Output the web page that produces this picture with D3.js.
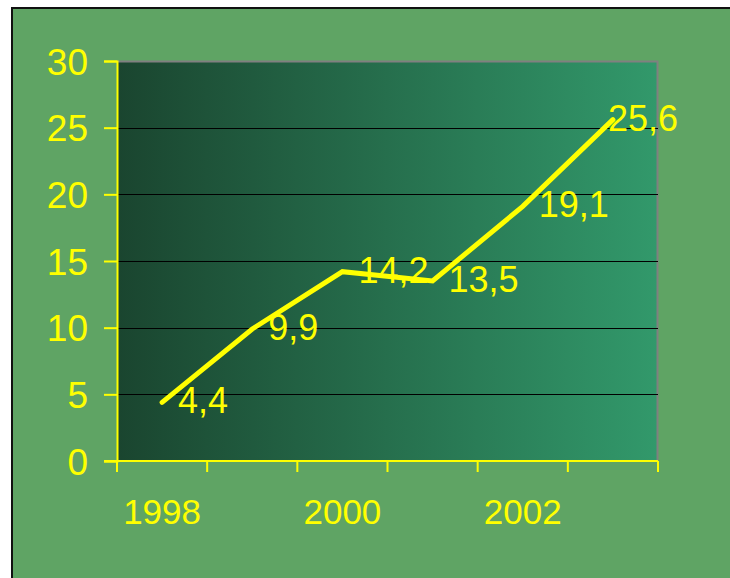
<!DOCTYPE html>
<html><head><meta charset="utf-8">
<script src="https://cdn.jsdelivr.net/npm/d3@7"></script>
<style>html,body{margin:0;padding:0;background:#fff;}svg{display:block;}</style>
</head><body><svg id="c" width="730" height="578"></svg>
<script>
const years = ["1998","1999","2000","2001","2002","2003"];
const values = [4.4, 9.9, 14.2, 13.5, 19.1, 25.6];
const valueLabels = ["4,4","9,9","14,2","13,5","19,1","25,6"];
const shownYears = ["1998","2000","2002"];
const yTicks = [0,5,10,15,20,25,30];

const svg = d3.select("#c");
const font = "'Liberation Sans', Arial, sans-serif";
const yellow = "#ffff00";

svg.append("rect").attr("x",12).attr("y",8).attr("width",730).attr("height",580)
  .attr("fill","#5fa464").attr("stroke","#111").attr("stroke-width",2);

const L=117, R=658, T=61, B=461;
const x = d3.scaleBand().domain(years).range([L,R]).padding(0);
const y = d3.scaleLinear().domain([0,30]).range([B,T]);

const defs = svg.append("defs");
const g = defs.append("linearGradient").attr("id","bg").attr("x1","0").attr("x2","1").attr("y1","0").attr("y2","0");
g.append("stop").attr("offset","0%").attr("stop-color","#1a452f");
g.append("stop").attr("offset","100%").attr("stop-color","#32996b");

svg.append("rect").attr("x",L).attr("y",T).attr("width",R-L).attr("height",B-T).attr("fill","url(#bg)");
svg.append("path").attr("d",`M${L},${T+0.5}H${R-0.5}V${B}`).attr("fill","none").attr("stroke","#808080").attr("stroke-width",2);

svg.append("g").selectAll("line").data(yTicks.filter(v=>v>0&&v<30)).join("line")
  .attr("x1",L).attr("x2",R).attr("y1",d=>Math.round(y(d))+0.5).attr("y2",d=>Math.round(y(d))+0.5)
  .attr("stroke","#000").attr("stroke-width",1);

const yAxis = d3.axisLeft(y).tickValues(yTicks).tickSize(13).tickPadding(16).tickFormat(d3.format("d"));
const ya = svg.append("g").attr("transform",`translate(${L},0)`).call(yAxis);
ya.select(".domain").attr("stroke",yellow).attr("stroke-width",2);
ya.selectAll(".tick line").attr("stroke",yellow).attr("stroke-width",2);
ya.selectAll(".tick text").attr("fill",yellow).attr("font-family",font).attr("font-size",37).attr("dy",null).attr("y",13);

const xTickPos = years.map(d=>x(d)).concat([R]);
const xa = svg.append("g");
xa.append("line").attr("x1",L-13).attr("x2",R).attr("y1",B).attr("y2",B).attr("stroke",yellow).attr("stroke-width",2);
xa.selectAll("line.t").data(xTickPos).join("line").attr("class","t")
  .attr("x1",d=>d).attr("x2",d=>d).attr("y1",B).attr("y2",B+11).attr("stroke",yellow).attr("stroke-width",2);
xa.selectAll("text").data(shownYears).join("text")
  .attr("x",d=>x(d)+x.bandwidth()/2).attr("y",524).attr("text-anchor","middle")
  .attr("fill",yellow).attr("font-family",font).attr("font-size",35).text(d=>d);

const pts = years.map((d,i)=>[x(d)+x.bandwidth()/2, y(values[i])]);
svg.append("path").attr("d",d3.line()(pts)).attr("fill","none").attr("stroke",yellow)
  .attr("stroke-width",5).attr("stroke-linecap","round").attr("stroke-linejoin","miter");

svg.append("g").selectAll("text").data(pts).join("text")
  .attr("x",(d,i)=> i===5 ? d[0]-5 : d[0]+16).attr("y",d=>d[1]+11)
  .attr("fill",yellow).attr("font-family",font).attr("font-size",36)
  .text((d,i)=>valueLabels[i]);
</script></body></html>
